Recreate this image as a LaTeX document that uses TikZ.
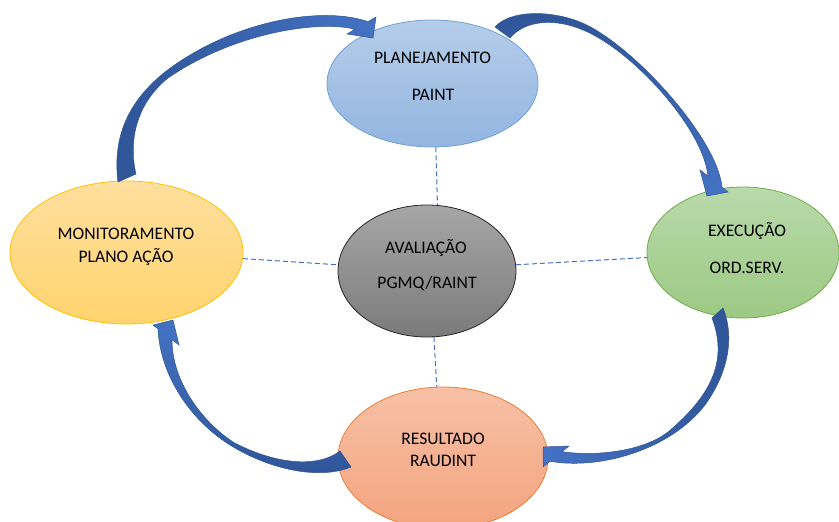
\documentclass[tikz,border=0pt]{standalone}
\usepackage{fontspec}
\setmainfont{Carlito}
\usetikzlibrary{shapes.geometric}
\definecolor{arrdark}{HTML}{2F5597}
\definecolor{arrlight}{HTML}{4472C4}
\definecolor{planT}{HTML}{B5CDE9}
\definecolor{planB}{HTML}{93B5E0}
\definecolor{planD}{HTML}{6FA0D8}
\definecolor{midT}{HTML}{A6A6A6}
\definecolor{midB}{HTML}{7B7B7B}
\definecolor{midD}{HTML}{262626}
\definecolor{monT}{HTML}{FFDF9E}
\definecolor{monB}{HTML}{FFD36E}
\definecolor{monD}{HTML}{FFC000}
\definecolor{exeT}{HTML}{B9D9AB}
\definecolor{exeB}{HTML}{9CC983}
\definecolor{exeD}{HTML}{70AD47}
\definecolor{resT}{HTML}{F6C0A5}
\definecolor{resB}{HTML}{F4A47F}
\definecolor{resD}{HTML}{ED7D31}
\begin{document}
\begin{tikzpicture}[x=1pt,y=-1pt,
  bubble/.style={ellipse, inner sep=0pt, line width=0.8pt},
  lbl/.style={anchor=base, font=\fontsize{17.6}{20}\selectfont, text=black, inner sep=0pt},
  link/.style={draw=arrlight, line width=1pt, dash pattern=on 5pt off 3pt},
  bandarrow/.style={draw=arrdark, line width=0.5pt}]
\useasboundingbox (0,0) rectangle (839,522);
% ellipses
\node[bubble, draw=planD, top color=planT, bottom color=planB, minimum width=211pt, minimum height=127pt] (plan) at (432.5,83.5) {};
\node[bubble, draw=midD, top color=midT, bottom color=midB, minimum width=178pt, minimum height=132pt] (mid) at (427,271) {};
\node[bubble, draw=monD, top color=monT, bottom color=monB, minimum width=233pt, minimum height=143pt] (mon) at (126.5,252.5) {};
\node[bubble, draw=exeD, top color=exeT, bottom color=exeB, minimum width=192pt, minimum height=131pt] (exe) at (743,252.5) {};
\node[bubble, draw=resD, top color=resT, bottom color=resB, minimum width=210pt, minimum height=142pt] (res) at (443,458) {};
% dashed links
\draw[link] (plan.-87) -- (mid.81);
\draw[link] (mid.-84) -- (res.95);
\draw[link] (mon.-3) -- (mid.176);
\draw[link] (mid.4) -- (exe.183);
% curved block arrows
\shade[bandarrow, left color=arrdark, right color=arrlight]
 (118,182) .. controls (112,135) and (130,100) .. (165,72)
 .. controls (230,22) and (320,5) .. (368,21.7)
 -- (376,17) -- (373,38) -- (347,34) -- (355,29.3)
 .. controls (320,20) and (235,32) .. (168,78)
 .. controls (137,103) and (128,140) .. (136,174) -- cycle;
\shade[bandarrow, top color=arrdark, bottom color=arrlight]
 (495,27) .. controls (510,10) and (550,10) .. (580,22)
 .. controls (630,42) and (717,137) .. (722,187)
 -- (728,192) -- (707,196) -- (700,170) -- (708,176)
 .. controls (703,128) and (632,50) .. (583,30)
 .. controls (555,18) and (525,20) .. (510,38) -- cycle;
\shade[bandarrow, right color=arrdark, left color=arrlight]
 (723,308) .. controls (734,335) and (730,370) .. (705,405)
 .. controls (670,450) and (600,470) .. (550,461.3)
 -- (543,467) -- (543,447) -- (569,446) -- (562,451.7)
 .. controls (600,457) and (645,450) .. (668,432)
 .. controls (712,395) and (728,360) .. (712,318) -- cycle;
\shade[bandarrow, bottom color=arrdark, top color=arrlight]
 (351,467) .. controls (320,480) and (270,470) .. (230,445)
 .. controls (190,420) and (160,375) .. (158,328.8)
 -- (153,325) -- (173,320) -- (179,345) -- (172,339.6)
 .. controls (172,380) and (200,420) .. (233,442)
 .. controls (270,462) and (315,470) .. (340,451) -- cycle;
% labels
\node[lbl] (planA) at (432.5,63.5) {PLANEJAMENTO};
\node[lbl] (planB) at (433,100.5) {PAINT};
\node[lbl] (midA) at (426,253) {AVALIAÇÃO};
\node[lbl] (midB) at (427,288.5) {PGMQ/RAINT};
\node[lbl] (monA) at (126,239.7) {MONITORAMENTO};
\node[lbl] (monB) at (126,262.9) {PLANO AÇÃO};
\node[lbl] (exeA) at (747,236.5) {EXECUÇÃO};
\node[lbl] (exeB) at (747,273.2) {ORD.SERV.};
\node[lbl] (resA) at (443,444.5) {RESULTADO};
\node[lbl] (resB) at (443,466.9) {RAUDINT};
\end{tikzpicture}
\end{document}
